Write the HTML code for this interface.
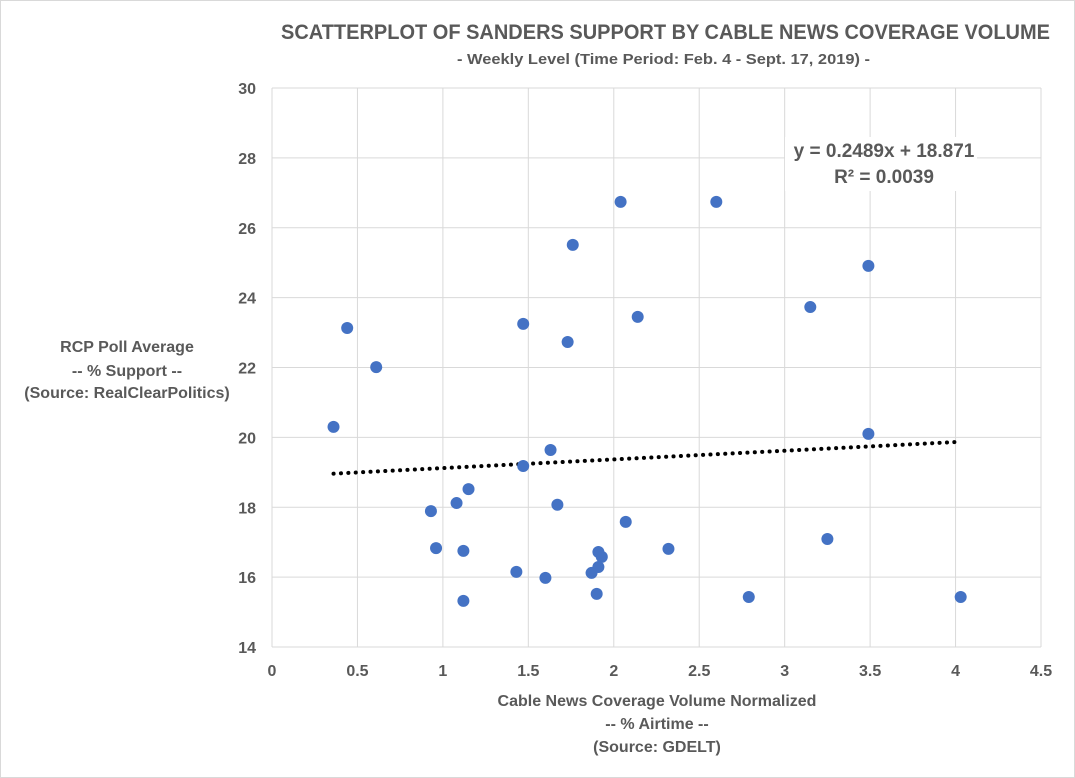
<!DOCTYPE html>
<html><head><meta charset="utf-8"><style>
body{margin:0;background:#fff;}
svg{display:block;font-family:"Liberation Sans",sans-serif;}
</style></head><body>
<svg id="c" width="1075" height="778">
<rect x="0.5" y="0.5" width="1074" height="777" fill="#fff" stroke="#d9d9d9"/>
<text x="281" y="39" textLength="769" lengthAdjust="spacingAndGlyphs" font-size="21" font-weight="bold" fill="#595959">SCATTERPLOT OF SANDERS SUPPORT BY CABLE NEWS COVERAGE VOLUME</text>
<text x="457" y="64" textLength="413" lengthAdjust="spacingAndGlyphs" font-size="15" font-weight="bold" fill="#595959">- Weekly Level (Time Period: Feb. 4 - Sept. 17, 2019) -</text>
<g id="grid"></g><g id="ticks"></g>
<g font-size="16" font-weight="bold" fill="#595959" text-anchor="middle">
<text x="127" y="352">RCP Poll Average</text>
<text x="127" y="376">-- % Support --</text>
<text x="127" y="398">(Source: RealClearPolitics)</text>
<text x="657" y="706">Cable News Coverage Volume Normalized</text>
<text x="657" y="729">-- % Airtime --</text>
<text x="657" y="752">(Source: GDELT)</text>
</g>
<g id="trend"></g><g id="pts"></g>
<rect x="785" y="137" width="192" height="54" fill="#fff"/>
<text x="884" y="157" text-anchor="middle" font-size="19" font-weight="bold" fill="#595959">y = 0.2489x + 18.871</text>
<text x="884" y="183" text-anchor="middle" font-size="19" font-weight="bold" fill="#595959">R² = 0.0039</text>
</svg>
<script>
const xTicks=[0,0.5,1,1.5,2,2.5,3,3.5,4,4.5];
const yTicks=[14,16,18,20,22,24,26,28,30];
const xVals=[0.36,0.44,0.61,0.93,0.96,1.08,1.12,1.12,1.15,1.43,1.47,1.47,1.60,1.63,1.67,1.73,1.76,1.87,1.90,1.91,1.93,1.91,2.04,2.07,2.14,2.32,2.60,2.79,3.15,3.25,3.49,3.49,4.03];
const yVals=[20.3,23.13,22.01,17.89,16.83,18.12,15.32,16.75,18.52,16.15,23.25,19.18,15.98,19.64,18.07,22.73,25.51,16.12,15.52,16.72,16.58,16.29,26.74,17.58,23.45,16.81,26.74,15.43,23.73,17.09,24.91,20.10,15.43];
const slope=0.2489, intercept=18.871;
const X0=272,X1=1041,Y0=647,Y1=88;
const sx=v=>X0+(v-0)/(4.5-0)*(X1-X0);
const sy=v=>Y0-(v-14)/(30-14)*(Y0-Y1);
const NS="http://www.w3.org/2000/svg";
function mk(t,p,a){const e=document.createElementNS(NS,t);for(const k in a)e.setAttribute(k,a[k]);p.appendChild(e);return e;}
const g=document.getElementById('grid'),tk=document.getElementById('ticks');
xTicks.forEach(v=>{
 const l=mk('line',g,{x1:sx(v),x2:sx(v),y1:Y1,y2:Y0,stroke:'#d9d9d9'});
 
 
 const t=mk('text',tk,{x:sx(v),y:Y0+29,'text-anchor':'middle','font-size':16,'font-weight':'bold',fill:'#595959'});
 t.textContent=v;
 
 
});
yTicks.forEach(v=>{
 const l=mk('line',g,{x1:X0,x2:X1,y1:sy(v),y2:sy(v),stroke:'#d9d9d9'});
 
 
 const t=mk('text',tk,{x:X0-16,y:sy(v)+6,'text-anchor':'end','font-size':16,'font-weight':'bold',fill:'#595959'});
 t.textContent=v;
 
 
});
const xmin=Math.min(...xVals),xmax=Math.max(...xVals);
const tl=mk('line',document.getElementById('trend'),{x1:sx(xmin),y1:sy(slope*xmin+intercept),x2:sx(xmax),y2:sy(slope*xmax+intercept),stroke:'#000','stroke-width':4,'stroke-dasharray':'0.1 7.3','stroke-linecap':'round'});


const pg=document.getElementById('pts');
xVals.forEach((x,i)=>{
 const c=mk('circle',pg,{cx:sx(x),cy:sy(yVals[i]),r:6,fill:'#4472c4'});
 
 
});
</script>
</body></html>
